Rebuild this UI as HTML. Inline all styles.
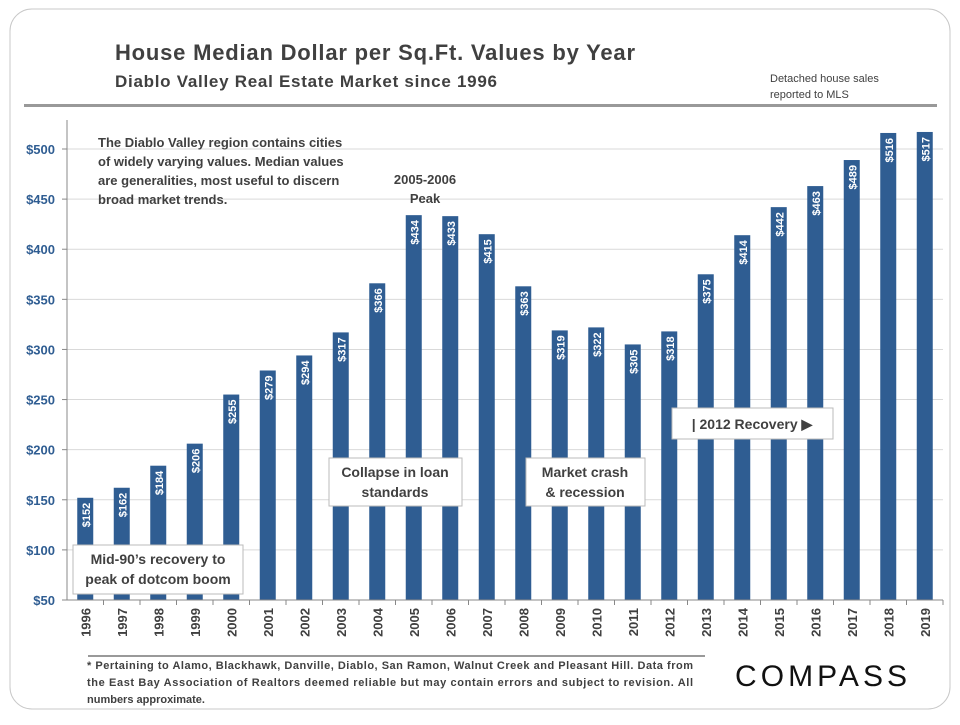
<!DOCTYPE html>
<html><head><meta charset="utf-8"><style>
body{margin:0;background:#fff;font-family:"Liberation Sans",sans-serif}
svg text{font-family:"Liberation Sans",sans-serif}
</style></head><body>
<svg width="960" height="720" viewBox="0 0 960 720" xmlns="http://www.w3.org/2000/svg">
<rect x="10" y="9" width="940" height="700" rx="22" fill="#fff" stroke="#c8c8c8" stroke-width="1"/>
<text x="115" y="60" font-size="22" font-weight="bold" fill="#404040" textLength="520">House Median Dollar per Sq.Ft. Values by Year</text>
<text x="115" y="87" font-size="17" font-weight="bold" fill="#404040" textLength="382">Diablo Valley Real Estate Market since 1996</text>
<text x="770" y="82" font-size="11" fill="#404040">Detached house sales</text>
<text x="770" y="98" font-size="11" fill="#404040">reported to MLS</text>
<rect x="24" y="104" width="913" height="3" fill="#999"/>
<g id="grid"></g><g id="bars"></g><g id="axes"></g>
<text x="98" y="147" font-size="13" font-weight="bold" fill="#404040"><tspan x="98">The Diablo Valley region contains cities</tspan><tspan x="98" dy="19">of widely varying values. Median values</tspan><tspan x="98" dy="19">are generalities, most useful to discern</tspan><tspan x="98" dy="19">broad market trends.</tspan></text>
<text x="425" y="184" font-size="13" font-weight="bold" fill="#404040" text-anchor="middle"><tspan x="425">2005-2006</tspan><tspan x="425" dy="19">Peak</tspan></text>
<g><rect x="73" y="545" width="170" height="49" fill="#fff" stroke="#bbb"/><text font-size="14" font-weight="bold" fill="#404040" text-anchor="middle"><tspan x="158" y="564">Mid-90’s recovery to</tspan><tspan x="158" y="584">peak of dotcom boom</tspan></text></g>
<g><rect x="329" y="458" width="133" height="48" fill="#fff" stroke="#bbb"/><text font-size="14" font-weight="bold" fill="#404040" text-anchor="middle"><tspan x="395" y="477">Collapse in loan</tspan><tspan x="395" y="497">standards</tspan></text></g>
<g><rect x="526" y="458" width="119" height="48" fill="#fff" stroke="#bbb"/><text font-size="14" font-weight="bold" fill="#404040" text-anchor="middle"><tspan x="585" y="477">Market crash</tspan><tspan x="585" y="497">&amp; recession</tspan></text></g>
<g><rect x="672" y="408" width="161" height="31" fill="#fff" stroke="#bbb"/><text x="752" y="429" font-size="14" font-weight="bold" fill="#404040" text-anchor="middle">| 2012 Recovery ▶</text></g>
<line x1="88" y1="656" x2="705" y2="656" stroke="#999" stroke-width="2"/>
<text font-size="11" font-weight="bold" fill="#404040"><tspan x="87" y="669" textLength="606">* Pertaining to Alamo, Blackhawk, Danville, Diablo, San Ramon, Walnut Creek and Pleasant Hill. Data from</tspan><tspan x="87" y="686" textLength="606">the East Bay Association of Realtors deemed reliable but may contain errors and subject to revision. All</tspan><tspan x="87" y="703">numbers approximate.</tspan></text>
<text x="735" y="686" font-size="30" fill="#111" textLength="172">COMPASS</text>
</svg>
<script>
const years=["1996","1997","1998","1999","2000","2001","2002","2003","2004","2005","2006","2007","2008","2009","2010","2011","2012","2013","2014","2015","2016","2017","2018","2019"];
const values=[152,162,184,206,255,279,294,317,366,434,433,415,363,319,322,305,318,375,414,442,463,489,516,517];
const yTicks=[50,100,150,200,250,300,350,400,450,500];
const NS="http://www.w3.org/2000/svg";
const X0=67,X1=943,Y0=600,Y1=149,VMIN=50,VMAX=500;
const band=(X1-X0)/years.length;
function xC(i){return X0+band*(i+0.5);}
function yS(v){return Y0-(v-VMIN)/(VMAX-VMIN)*(Y0-Y1);}
function mk(tag,attrs,parent){const e=document.createElementNS(NS,tag);for(const k in attrs)e.setAttribute(k,attrs[k]);parent.appendChild(e);return e;}
const grid=document.getElementById('grid'),bars=document.getElementById('bars'),axes=document.getElementById('axes');
yTicks.forEach(t=>{
  const y=yS(t);
  if(t>VMIN){const g=mk('line',{x1:X0,x2:X1,y1:y,y2:y,stroke:'#d9d9d9','stroke-width':1},grid);
  
  }
  const tk=mk('line',{x1:X0-5,x2:X0,y1:y,y2:y,stroke:'#888'},axes);
  
  
  const lb=mk('text',{x:X0-12,y:y+5,'font-size':13,'font-weight':'bold',fill:'#2f5d92','text-anchor':'end'},axes);
  lb.textContent='$'+t;
  
  
});
const ya=mk('line',{x1:X0,x2:X0,y1:120,y2:Y0,stroke:'#888'},axes);


const xa=mk('line',{x1:X0-5,x2:X1,y1:Y0,y2:Y0,stroke:'#888'},axes);


years.forEach((yr,i)=>{
  const c=xC(i),v=values[i],top=yS(v),w=16;
  const r=mk('rect',{x:c-w/2,y:top,width:w,height:Y0-top,fill:'#2f5d92'},bars);
  
  
  const vl=mk('text',{transform:`translate(${c+4.5},${top+5}) rotate(-90)`,'font-size':11,'font-weight':'bold',fill:'#fff','text-anchor':'end'},bars);
  vl.textContent='$'+v;
  
  
  const tk=mk('line',{x1:X0+band*(i+1),x2:X0+band*(i+1),y1:Y0,y2:Y0+5,stroke:'#888'},axes);
  
  
  const xl=mk('text',{transform:`translate(${c+5},${Y0+8}) rotate(-90)`,'font-size':13,'font-weight':'bold',fill:'#404040','text-anchor':'end'},axes);
  xl.textContent=yr;
  
  
});
</script>
</body></html>
